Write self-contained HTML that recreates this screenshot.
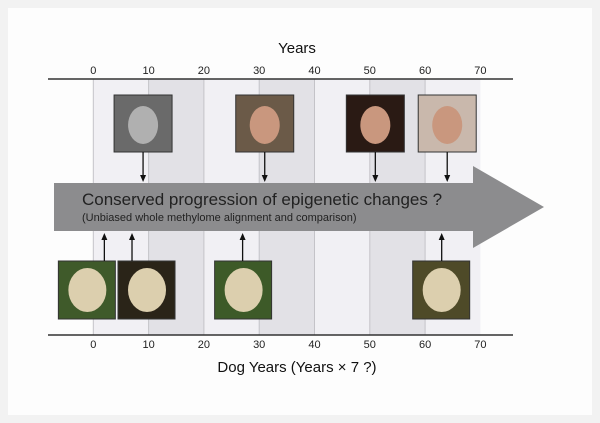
<!DOCTYPE html>
<html><head><meta charset="utf-8"><style>
body{margin:0;background:#fff;}
svg{display:block;font-family:"Liberation Sans",sans-serif;}
</style></head><body>
<svg width="600" height="423" viewBox="0 0 600 423">
<rect x="0" y="0" width="600" height="423" fill="#f2f2f2"/>
<rect x="8" y="8" width="584" height="407" fill="#fdfdfd"/>
<g id="bands"></g>
<g id="axes"></g>
<g id="arrow-g">
<polygon points="54,183 473,183 473,166 544,207 473,248 473,231 54,231" fill="#8c8c8e"/>
<text x="82" y="205" font-size="17" fill="#222">Conserved progression of epigenetic changes ?</text>
<text x="82" y="221" font-size="11" fill="#222">(Unbiased whole methylome alignment and comparison)</text>
</g>
<g id="photos"></g>
<text x="297" y="53" font-size="15" text-anchor="middle" fill="#111">Years</text>
<text x="297" y="372" font-size="15" text-anchor="middle" fill="#111">Dog Years (Years × 7 ?)</text>
</svg>
<script>
const ticks=[0,10,20,30,40,50,60,70];
const humanAges=[9,31,51,64];
const dogAges=[2,7,27,63];
const x0=93.3, k=5.53;
const X=v=>x0+v*k;
const NS="http://www.w3.org/2000/svg";
function mk(t,a,p){const e=document.createElementNS(NS,t);for(const n in a)e.setAttribute(n,a[n]);p.appendChild(e);return e;}
const bands=document.getElementById('bands'), axes=document.getElementById('axes'), photos=document.getElementById('photos');
for(let i=0;i<ticks.length-1;i++){
 const r=mk('rect',{x:X(ticks[i]),y:79,width:X(ticks[i+1])-X(ticks[i]),height:256,fill:i%2?'#e2e1e6':'#f1f0f4'},bands);
 
 
 const l=mk('line',{x1:X(ticks[i]),x2:X(ticks[i]),y1:79,y2:335,stroke:'#c4c3c8','stroke-width':1},bands);
 
 
}
[79,335].forEach((y,j)=>{
 const l=mk('line',{x1:48,x2:513,y1:y,y2:y,stroke:'#333','stroke-width':1.5},axes);
 
 
 ticks.forEach(t=>{
  const tx=mk('text',{x:X(t),y:j?348:74,'font-size':11,'text-anchor':'middle',fill:'#222'},axes);
  tx.textContent=t;
  
  
 });
});
const hcol=['#6a6a6a','#6b5a48','#2a1a14','#c9b8ac'];
humanAges.forEach((a,i)=>{
 const cx=X(a);
 const r=mk('rect',{x:cx-29,y:95,width:58,height:57,fill:hcol[i],stroke:'#333'},photos);
 
 
 const f=mk('ellipse',{cx:cx,cy:125,rx:15,ry:19,fill:i==0?'#b0b0b0':'#c9977e'},photos);
 
 
 const l=mk('line',{x1:cx,x2:cx,y1:152,y2:177,stroke:'#111','stroke-width':1.3},photos);
 
 
 const h=mk('polygon',{points:`${cx-3},175 ${cx+3},175 ${cx},182`,fill:'#111'},photos);
 
 
});
const dcol=['#3f5a2a','#2a2418','#3d5a28','#4e4a28'];
dogAges.forEach((a,i)=>{
 const cx=X(a);
 const ox=[-46,-14,-28,-29][i];
 const r=mk('rect',{x:cx+ox,y:261,width:57,height:58,fill:dcol[i],stroke:'#333'},photos);
 
 
 const f=mk('ellipse',{cx:cx+ox+29,cy:290,rx:19,ry:22,fill:'#dccfae'},photos);
 
 
 const l=mk('line',{x1:cx,x2:cx,y1:261,y2:237,stroke:'#111','stroke-width':1.3},photos);
 
 
 const h=mk('polygon',{points:`${cx-3},240 ${cx+3},240 ${cx},233`,fill:'#111'},photos);
 
 
});
</script>
</body></html>
